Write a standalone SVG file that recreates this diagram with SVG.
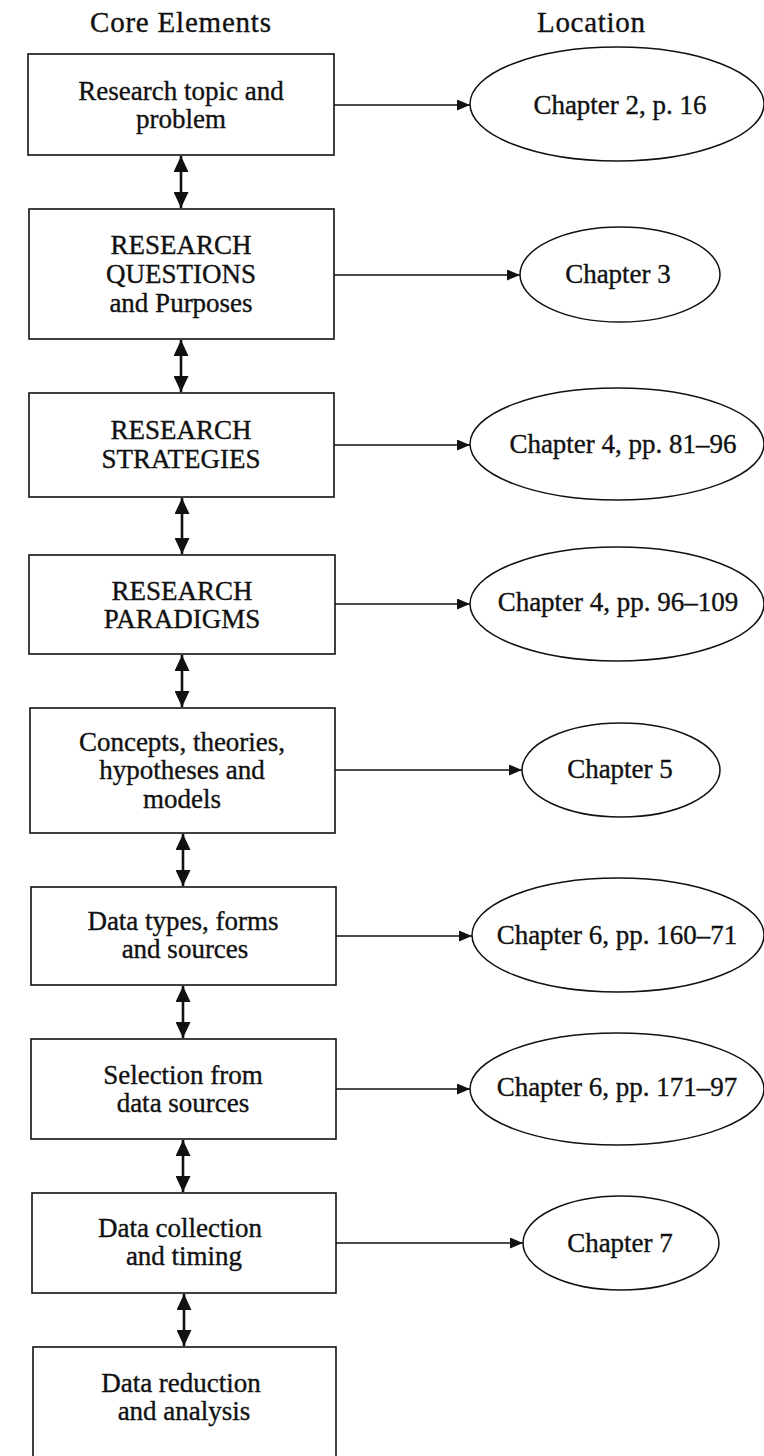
<svg xmlns="http://www.w3.org/2000/svg" width="764" height="1456" viewBox="0 0 764 1456">
<style>
text{font-family:"Liberation Serif","Times New Roman",serif;font-size:27px;fill:#111;stroke:#111;stroke-width:0.35;text-anchor:middle}
.hd{font-size:29px}
.box{fill:#fff;stroke:#111;stroke-width:1.6}
.ell{fill:#fff;stroke:#111;stroke-width:1.5}
.v{stroke:#111;stroke-width:2.6;fill:none}
.h{stroke:#111;stroke-width:1.6;fill:none}
</style>
<defs>
<marker id="dv" markerUnits="userSpaceOnUse" markerWidth="16" markerHeight="15" refX="16" refY="7.5" orient="auto-start-reverse" viewBox="0 0 16 15"><polygon points="0,0 16,7.5 0,15" fill="#111"/></marker>
<marker id="ah" markerUnits="userSpaceOnUse" markerWidth="13" markerHeight="11" refX="13" refY="5.5" orient="auto" viewBox="0 0 13 11"><polygon points="0,0 13,5.5 0,11" fill="#111"/></marker>
</defs>
<rect width="764" height="1456" fill="#fff"/>
<text class="hd" x="180.5" y="32" textLength="181" lengthAdjust="spacing">Core Elements</text>
<text class="hd" x="591" y="32" textLength="108" lengthAdjust="spacing">Location</text>

<g id="connectors">
<line class="v" x1="181" y1="156" x2="181" y2="208" marker-start="url(#dv)" marker-end="url(#dv)"/>
<line class="v" x1="181" y1="340" x2="181" y2="392" marker-start="url(#dv)" marker-end="url(#dv)"/>
<line class="v" x1="182" y1="498" x2="182" y2="554" marker-start="url(#dv)" marker-end="url(#dv)"/>
<line class="v" x1="182" y1="655" x2="182" y2="707" marker-start="url(#dv)" marker-end="url(#dv)"/>
<line class="v" x1="183" y1="834" x2="183" y2="886" marker-start="url(#dv)" marker-end="url(#dv)"/>
<line class="v" x1="183" y1="986" x2="183" y2="1038" marker-start="url(#dv)" marker-end="url(#dv)"/>
<line class="v" x1="183" y1="1140" x2="183" y2="1192" marker-start="url(#dv)" marker-end="url(#dv)"/>
<line class="v" x1="184" y1="1294" x2="184" y2="1346" marker-start="url(#dv)" marker-end="url(#dv)"/>
<line class="h" x1="334" y1="105" x2="470" y2="105" marker-end="url(#ah)"/>
<line class="h" x1="334" y1="275" x2="520" y2="275" marker-end="url(#ah)"/>
<line class="h" x1="334" y1="445" x2="470" y2="445" marker-end="url(#ah)"/>
<line class="h" x1="335" y1="604" x2="470" y2="604" marker-end="url(#ah)"/>
<line class="h" x1="335" y1="770" x2="522" y2="770" marker-end="url(#ah)"/>
<line class="h" x1="336" y1="936" x2="472" y2="936" marker-end="url(#ah)"/>
<line class="h" x1="336" y1="1089" x2="470" y2="1089" marker-end="url(#ah)"/>
<line class="h" x1="336" y1="1243" x2="523" y2="1243" marker-end="url(#ah)"/>
</g>

<g id="n1"><rect class="box" x="28" y="54" width="306" height="101"/><text x="181" y="100">Research topic and</text><text x="181" y="128">problem</text></g>
<g id="n2"><rect class="box" x="29" y="209" width="305" height="130"/><text x="181" y="254">RESEARCH</text><text x="181" y="283">QUESTIONS</text><text x="181" y="312">and Purposes</text></g>
<g id="n3"><rect class="box" x="29" y="393" width="305" height="104"/><text x="181" y="439">RESEARCH</text><text x="181" y="468">STRATEGIES</text></g>
<g id="n4"><rect class="box" x="29" y="555" width="306" height="99"/><text x="182" y="600">RESEARCH</text><text x="182" y="628">PARADIGMS</text></g>
<g id="n5"><rect class="box" x="30" y="708" width="305" height="125"/><text x="182" y="751">Concepts, theories,</text><text x="182" y="779">hypotheses and</text><text x="182" y="808">models</text></g>
<g id="n6"><rect class="box" x="31" y="887" width="305" height="98"/><text x="183" y="930">Data types, forms</text><text x="185" y="958">and sources</text></g>
<g id="n7"><rect class="box" x="31" y="1039" width="305" height="100"/><text x="183" y="1084">Selection from</text><text x="183" y="1112">data sources</text></g>
<g id="n8"><rect class="box" x="32" y="1193" width="304" height="100"/><text x="180" y="1237">Data collection</text><text x="184" y="1265">and timing</text></g>
<g id="n9"><rect class="box" x="33" y="1347" width="303" height="130"/><text x="181" y="1392">Data reduction</text><text x="184" y="1420">and analysis</text></g>

<g id="l1"><ellipse class="ell" cx="617" cy="104" rx="147" ry="57"/><text x="620" y="114">Chapter 2, p. 16</text></g>
<g id="l2"><ellipse class="ell" cx="620" cy="274.5" rx="100" ry="47.5"/><text x="618" y="283">Chapter 3</text></g>
<g id="l3"><ellipse class="ell" cx="617" cy="444" rx="147" ry="56"/><text x="623" y="453">Chapter 4, pp. 81–96</text></g>
<g id="l4"><ellipse class="ell" cx="617" cy="604" rx="147" ry="57"/><text x="618" y="611">Chapter 4, pp. 96–109</text></g>
<g id="l5"><ellipse class="ell" cx="621" cy="770" rx="99" ry="47"/><text x="620" y="778">Chapter 5</text></g>
<g id="l6"><ellipse class="ell" cx="618" cy="935" rx="146" ry="57"/><text x="617" y="944">Chapter 6, pp. 160–71</text></g>
<g id="l7"><ellipse class="ell" cx="617" cy="1089" rx="147" ry="56"/><text x="617" y="1096">Chapter 6, pp. 171–97</text></g>
<g id="l8"><ellipse class="ell" cx="621" cy="1243" rx="98" ry="47"/><text x="620" y="1252">Chapter 7</text></g>
</svg>
